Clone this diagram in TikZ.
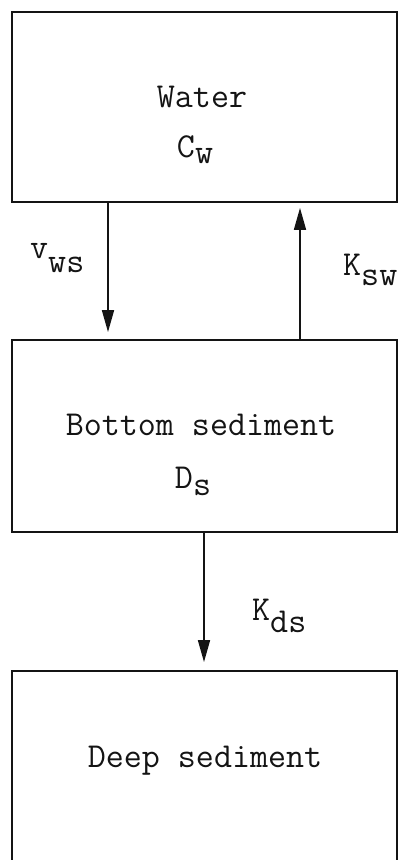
\documentclass[tikz,border=0pt]{standalone}
\usepackage{fontspec}
\usepackage{tikz}
\usetikzlibrary{arrows.meta, positioning, calc}
\definecolor{boxblack}{RGB}{20,20,20}
\tikzset{
  compart/.style={rectangle, draw=boxblack, line width=1.8pt, inner sep=0pt,
    minimum width=385pt},
  txt/.style={font=\fontsize{35}{40}\selectfont\ttfamily, text=boxblack, inner sep=0pt, anchor=base},
  rate/.style={txt, anchor=base west},
  flow/.style={-{Triangle[length=22pt,width=12pt]}, line width=1.6pt, draw=boxblack}
}
\newcommand{\sbs}[2][7pt]{\raisebox{-#1}{#2}}
\begin{document}
\begin{tikzpicture}[x=1pt, y=-1pt]
  \clip (0,0) rectangle (398,860);
  % compartments
  \node[compart, minimum height=190pt] (water) at (204.5,107) {};
  \node[compart, minimum height=192pt] (bottom) at (204.5,436) {};
  \node[compart, minimum height=209pt] (deep) at (204.5,775.5) {};
  \node[txt] (waterlbl) at (202,107) {Water};
  \node[txt] (cw) at (195,157) {C\sbs[6pt]{w}};
  \node[txt] (bottomlbl) at (201,435) {Bottom sediment};
  \node[txt] (ds) at (193,488) {D\sbs{s}};
  \node[txt] (deeplbl) at (205,767) {Deep sediment};
  % fluxes
  \coordinate (xl) at (108,0);
  \coordinate (xr) at (300,0);
  \coordinate (xd) at (204,0);
  \draw[flow, shorten >=7pt] (water.south -| xl) -- (bottom.north -| xl);
  \draw[flow, shorten >=5pt] (bottom.north -| xr) -- (water.south -| xr);
  \draw[flow, shorten >=8pt] (bottom.south -| xd) -- (deep.north -| xd);
  \node[rate] (vws) at (30,258) {v\sbs[14pt]{ws}};
  \node[rate] (ksw) at (343,275) {K\sbs[10pt]{sw}};
  \node[rate] (kds) at (252,620) {K\sbs[12pt]{ds}};
\end{tikzpicture}
\end{document}
